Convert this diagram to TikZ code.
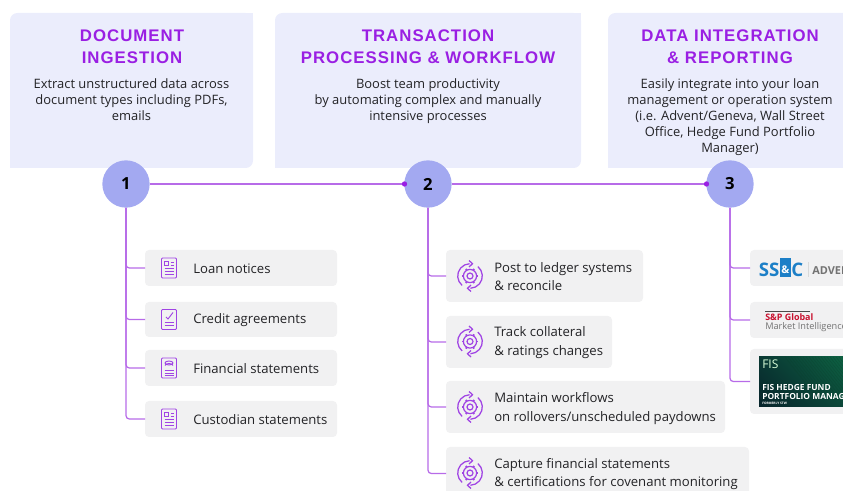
\documentclass[tikz,border=0pt]{standalone}
\usepackage{fontspec}
\setmainfont{Open Sans}
\newfontfamily\titlefont[LetterSpace=6]{Liberation Sans}
\newfontfamily\numfont{Open Sans}
\usetikzlibrary{calc,shadings}
\definecolor{cardc}{HTML}{EBEDFC}
\definecolor{circc}{HTML}{A3A9F1}
\definecolor{linec}{HTML}{B76BE8}
\definecolor{titlec}{HTML}{9A1FE3}
\definecolor{boxc}{HTML}{F1F1F2}
\definecolor{inkc}{HTML}{232326}
\definecolor{iconc}{HTML}{A044E4}
\definecolor{ssblue}{HTML}{1C7FC7}
\definecolor{spred}{HTML}{C8102E}
\definecolor{fisd}{HTML}{07232B}
\definecolor{fisg}{HTML}{0F6A46}
\tikzset{
  x=0.75pt,y=-0.75pt,
  card/.style={fill=cardc},
  cardtitle/.style={text=titlec,font=\titlefont\bfseries\fontsize{12.6}{15.8}\selectfont,align=center,anchor=north},
  cardtext/.style={text=inkc,font=\fontsize{9.7}{12}\selectfont,align=center,anchor=north},
  numc/.style={circle,fill=circc,minimum size=35.5pt,inner sep=0pt,text=black,font=\numfont\bfseries\fontsize{12.5}{14}\selectfont},
  itembox/.style={fill=boxc,rounded corners=3pt},
  itemtext/.style={text=inkc,font=\fontsize{9.85}{14}\selectfont,align=left,anchor=west,inner sep=0pt},
  wire/.style={draw=linec,line width=0.95pt},
  branch/.style={wire,rounded corners=2.5pt},
  dotn/.style={circle,fill=titlec,minimum size=4pt,inner sep=0pt},
  ico/.style={draw=iconc,line width=0.7pt},
  logotext/.style={anchor=west,inner sep=0pt},
}
\newcommand{\cardbox}[2]{%
  \fill[card,rounded corners=5.5pt] (#1,13) rectangle (#2,168);
  \fill[card] (#1,150) rectangle (#1+20,168);
  \fill[card] (#2-20,13) rectangle (#2,33);
}
\newcommand{\itembox}[5]{\fill[itembox] (#1,#2) rectangle (#3,#4); \coordinate (#5) at (#1,{(#2+#4)/2});}
\newcommand{\docframe}[2]{\draw[ico,rounded corners=0.8pt] (#1-7.5,#2-10) rectangle (#1+7.5,#2+10);}
\newcommand{\lines}[3]{\foreach \yy in {#3}{\draw[ico] (#1-4.5,#2+\yy) -- (#1+4.5,#2+\yy);}}
\newcommand{\docicon}[2]{\docframe{#1}{#2}\draw[ico] (#1-4.5,#2-6.5) rectangle (#1-0.5,#2-2.5);\draw[ico] (#1+1.5,#2-6) -- (#1+4.5,#2-6) (#1+1.5,#2-3) -- (#1+4.5,#2-3);\lines{#1}{#2}{0.5,3.5,6.5}}
\newcommand{\checkicon}[2]{\docframe{#1}{#2}\draw[ico] (#1-3,#2-2.5) -- (#1-1,#2-0.5) -- (#1+4,#2-7);\lines{#1}{#2}{3,6}}
\newcommand{\coinicon}[2]{\docframe{#1}{#2}\draw[ico] (#1,#2-5) ellipse (4 and 2);\draw[ico] (#1-4,#2-2.5) arc (180:360:4 and 2);\lines{#1}{#2}{2.5,5,7.5}}
\newcommand{\gearicon}[2]{%
  \draw[ico,line width=0.9pt] (#1,#2) circle (3);
  \draw[ico,line width=0.9pt] (#1,#2) circle (6.6);
  \foreach \a in {0,60,...,300}{\draw[ico,line width=1.3pt] ($(#1,#2)+(\a:6.6)$) -- ($(#1,#2)+(\a:8.2)$);}
  \draw[ico,line width=0.95pt] ($(#1,#2)+(130:12.3)$) arc[start angle=130,end angle=268,radius=12.3];
  \draw[ico,line width=0.95pt] ($(#1,#2)+(-50:12.3)$) arc[start angle=-50,end angle=88,radius=12.3];
  \draw[ico,line width=0.95pt] (#1-1,#2-15.5) -- (#1+2.5,#2-12.3) -- (#1-1,#2-9);
  \draw[ico,line width=0.95pt] (#1+1,#2+9) -- (#1-2.5,#2+12.3) -- (#1+1,#2+15.5);
}
\begin{document}
\begin{tikzpicture}
\useasboundingbox (0,0) rectangle (843,491);
\clip (0,0) rectangle (843,491);
% cards
\cardbox{10}{253}
\cardbox{275}{581}
\fill[card,rounded corners=5.5pt] (608,13) rectangle (860,168);
\fill[card] (608,150) rectangle (628,168);
\node[cardtitle] (t1) at (132,25.5) {DOCUMENT\\INGESTION};
\node[cardtitle] (t2) at (428,25.5) {TRANSACTION\\PROCESSING \& WORKFLOW};
\node[cardtitle] (t3) at (730,25.5) {DATA INTEGRATION\\\& REPORTING};
\node[cardtext] (d1) at (131.5,73.5) {Extract unstructured data across\\document types including PDFs,\\emails};
\node[cardtext] (d2) at (428,73.5) {Boost team productivity\\by automating complex and manually\\intensive processes};
\node[cardtext] (d3) at (730,73.5) {Easily integrate into your loan\\management or operation system\\(i.e. Advent/Geneva, Wall Street\\Office, Hedge Fund Portfolio\\Manager)};
% item boxes
\itembox{145}{250}{337}{286}{a1}
\itembox{145}{302}{337}{337}{a2}
\itembox{145}{350}{337}{386}{a3}
\itembox{145}{401}{337}{437}{a4}
\itembox{446}{250}{643}{302}{b1}
\itembox{446}{316}{612}{368}{b2}
\itembox{446}{381}{725}{433}{b3}
\itembox{446}{447}{749}{500}{b4}
\itembox{750}{250}{860}{286}{c1}
\itembox{750}{302}{860}{338}{c2}
\itembox{750}{349}{860}{414}{c3}
% circles
\node[numc] (n1) at (126,184) {1};
\node[numc] (n2) at (428,184) {2};
\node[numc] (n3) at (730,184) {3};
\node[dotn] (p2) at (404.5,184) {};
\node[dotn] (p3) at (706.5,184) {};
% connectors
\draw[wire] (n1) -- (p2);
\draw[wire] (n2) -- (p3);
\foreach \t in {a1,a2,a3,a4}{\draw[branch] (n1.south) |- (\t);}
\foreach \t in {b1,b2,b3,b4}{\draw[branch] (n2.south) |- (\t);}
\foreach \t in {c1,c2,c3}{\draw[branch] (n3.south) |- (\t);}
% icons
\docicon{169}{268}
\checkicon{169}{319.5}
\coinicon{169}{368}
\docicon{169}{419}
\gearicon{470}{276}
\gearicon{470}{341.5}
\gearicon{470}{407}
\gearicon{470}{473}
% item labels
\node[itemtext] (la1) at (193,269) {Loan notices};
\node[itemtext] (la2) at (193,320.5) {Credit agreements};
\node[itemtext] (la3) at (193,368.5) {Financial statements};
\node[itemtext] (la4) at (193,419.5) {Custodian statements};
\node[itemtext] (lb1) at (494,276.5) {Post to ledger systems\\\& reconcile};
\node[itemtext] (lb2) at (494,342.5) {Track collateral\\\& ratings changes};
\node[itemtext] (lb3) at (494,408.5) {Maintain workflows\\on rollovers/unscheduled paydowns};
\node[itemtext] (lb4) at (494,474) {Capture financial statements\\\& certifications for covenant monitoring};
% logos
\fill[ssblue] (780,258) rectangle (791,277);
\node[logotext,text=ssblue,font=\bfseries\fontsize{14}{14}\selectfont] (ss) at (758.5,269.5) {SS};
\node[logotext,text=white,font=\bfseries\fontsize{8}{10}\selectfont] (amp) at (781,269.5) {\&};
\node[logotext,text=ssblue,font=\bfseries\fontsize{14}{14}\selectfont] (cc) at (791,269.5) {C};
\draw[black!15,line width=0.5pt] (808,262) -- (808,277);
\node[logotext,text=black!55,font=\bfseries\fontsize{8.2}{10}\selectfont] (adv) at (812,271) {ADVENT};
\draw[black!70,line width=0.6pt] (765,311) -- (810,311);
\node[logotext,text=spred,font=\bfseries\fontsize{6.7}{8}\selectfont] (sp) at (765,317) {S\&P Global};
\node[logotext,text=black!55,font=\fontsize{6.9}{8}\selectfont] (mi) at (765,327) {Market Intelligence};
\begin{scope}
\clip (759,357) rectangle (860,407);
\shade[lower left=fisd,upper right=fisg,lower right=fisg!60!fisd,upper left=fisd!70!fisg] (759,357) rectangle (860,407);
\foreach \k in {0,3,...,60}{\draw[black!40!fisg,opacity=0.35,line width=0.4pt] (785+\k,357) -- (815+\k,395);}
\end{scope}
\node[logotext,text=white!85!green,font=\fontsize{9}{10}\selectfont] (fis) at (762,364.5) {FIS};
\node[logotext,text=white,align=left,font=\bfseries\fontsize{6.3}{6.9}\selectfont] (fist) at (762,392) {FIS HEDGE FUND\\PORTFOLIO MANAGER};
\node[logotext,text=white,font=\bfseries\fontsize{2.4}{3}\selectfont] (fisf) at (762,403) {FORMERLY STW};
\end{tikzpicture}
\end{document}
